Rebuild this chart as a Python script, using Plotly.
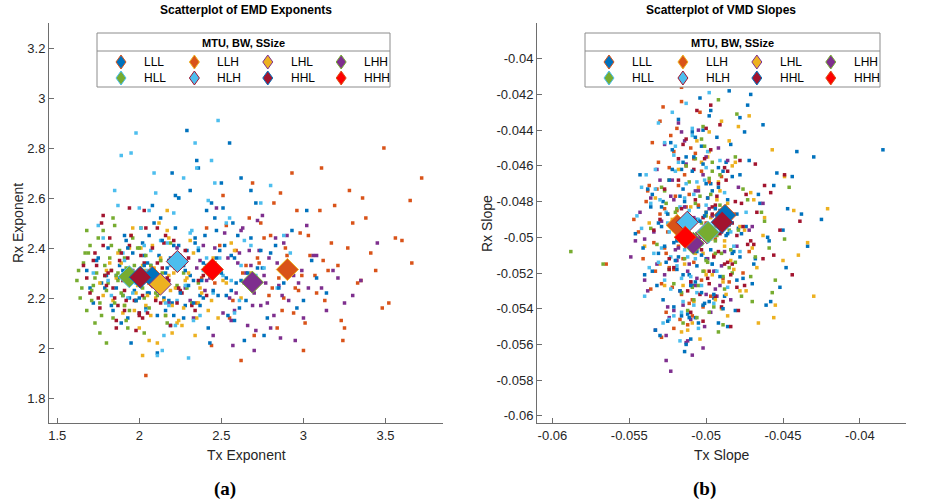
import plotly.graph_objects as go

# ---------------- data ----------------
groups = ["LLL", "LLH", "LHL", "LHH", "HLL", "HLH", "HHL", "HHH"]

# (a) EMD exponents: per-group scatter (Tx, Rx)
emd_tx = {
    "LLL": [1.68,1.72,1.75,1.79,1.81,1.84,1.86,1.88,1.90,1.91,1.93,1.95,1.96,1.98,1.99,2.01,2.02,2.04,2.05,2.06,2.08,2.09,2.11,2.12,2.14,2.15,2.17,2.19,2.21,2.23,2.25,2.28,2.31,2.34,2.37,2.41,2.45,2.50,2.56,2.62,1.77,1.94,2.07,2.18,2.29,
            1.70,1.74,1.83,1.87,1.92,1.97,2.00,2.03,2.10,2.13,2.16,2.20,2.24,2.27,2.33,2.39,2.44,2.53,2.60,2.68,2.75,1.80,1.89,2.05,2.22,2.47,2.36,1.95,2.58,2.11],
    "LLH": [2.04,2.35,2.41,2.46,2.51,2.55,2.59,2.63,2.67,2.70,2.73,2.76,2.79,2.82,2.85,2.87,2.89,2.91,2.93,2.95,2.98,3.01,3.04,3.07,3.10,3.13,3.17,3.21,3.25,3.30,3.35,3.41,3.48,3.56,3.65,3.72,2.62,2.80,2.97,3.15,2.44,3.28,2.72,3.49,2.88,
            2.38,2.49,2.57,2.65,2.74,2.81,2.86,2.90,2.94,2.99,3.03,3.08,3.12,3.19,3.23,3.27,3.33,3.38,3.44,3.52,3.60,2.69,2.84,2.96,3.11,3.24,3.36,2.53,3.00,3.66],
    "LHL": [1.76,1.80,1.84,1.87,1.90,1.93,1.95,1.98,2.00,2.02,2.04,2.06,2.08,2.10,2.11,2.13,2.14,2.16,2.17,2.19,2.21,2.23,2.25,2.27,2.29,2.31,2.34,2.37,2.40,2.44,2.48,2.53,2.58,1.89,1.97,2.05,2.12,2.20,2.28,2.36,2.09,2.15,2.01,2.24,2.18,
            1.78,1.82,1.86,1.91,1.94,1.99,2.03,2.07,2.10,2.13,2.15,2.18,2.22,2.26,2.30,2.33,2.38,2.42,2.46,2.51,2.56,2.62,1.96,2.06,2.17,2.35,2.45,2.02,2.20,2.68],
    "LHH": [2.12,2.18,2.23,2.28,2.33,2.37,2.41,2.45,2.49,2.52,2.55,2.58,2.61,2.64,2.66,2.68,2.70,2.72,2.74,2.76,2.79,2.82,2.85,2.88,2.91,2.95,2.99,3.03,3.08,3.14,3.21,3.30,2.47,2.60,2.71,2.83,2.40,2.93,2.56,2.67,2.78,2.35,2.97,2.63,3.45,
            2.15,2.26,2.31,2.39,2.43,2.51,2.54,2.59,2.62,2.65,2.69,2.73,2.77,2.80,2.84,2.87,2.90,2.94,3.00,3.06,3.11,3.18,3.25,2.57,2.75,2.86,3.02,2.46,2.70,3.35],
    "HLL": [1.62,1.64,1.66,1.68,1.70,1.72,1.74,1.76,1.78,1.80,1.82,1.84,1.86,1.88,1.90,1.92,1.93,1.95,1.96,1.98,2.00,2.02,2.04,2.06,2.08,2.10,2.13,2.16,2.19,2.23,2.27,2.32,1.67,1.73,1.79,1.85,1.91,1.97,2.03,1.87,1.99,2.11,1.71,1.83,2.36,
            1.63,1.65,1.69,1.71,1.73,1.75,1.77,1.79,1.81,1.83,1.85,1.87,1.89,1.91,1.94,1.97,2.00,2.03,2.07,2.12,2.17,2.22,2.29,1.68,1.76,1.84,1.92,2.01,1.80,2.14],
    "HLH": [1.72,1.78,1.83,1.87,1.91,1.95,1.98,2.01,2.04,2.07,2.10,2.12,2.15,2.17,2.19,2.21,2.23,2.25,2.27,2.29,2.31,2.33,2.36,2.39,2.42,2.45,2.49,2.53,2.58,2.64,2.71,2.80,2.92,1.89,2.48,1.93,2.06,2.14,2.26,2.35,2.56,2.03,2.18,2.76,2.30,
            1.75,1.81,1.85,1.90,1.96,2.00,2.05,2.09,2.13,2.16,2.20,2.24,2.28,2.32,2.37,2.41,2.46,2.51,2.55,2.61,2.68,2.74,2.84,1.98,2.22,2.44,2.62,2.11,2.34,2.88],
    "HHL": [1.66,1.70,1.73,1.76,1.79,1.82,1.84,1.86,1.88,1.90,1.92,1.94,1.96,1.98,1.99,2.01,2.02,2.04,2.05,2.07,2.09,2.11,2.13,2.15,2.17,2.19,2.22,2.25,2.28,2.32,2.36,2.41,1.78,1.85,1.93,2.00,2.08,2.16,2.24,1.81,1.97,2.12,2.03,1.91,2.46,
            1.68,1.72,1.75,1.78,1.80,1.83,1.87,1.89,1.91,1.95,1.97,2.00,2.03,2.06,2.08,2.10,2.14,2.18,2.21,2.26,2.30,2.34,2.39,1.77,1.86,1.94,2.02,2.11,1.74,2.23],
    "HHH": [1.86,1.93,1.98,2.03,2.08,2.12,2.16,2.19,2.22,2.25,2.28,2.31,2.33,2.36,2.38,2.40,2.42,2.44,2.46,2.48,2.50,2.52,2.54,2.56,2.59,2.62,2.65,2.68,2.72,2.76,2.80,2.85,2.90,2.96,3.05,3.14,2.35,2.43,2.51,2.27,2.58,2.14,2.70,2.47,2.39,
            1.90,2.00,2.06,2.10,2.18,2.21,2.24,2.30,2.34,2.37,2.41,2.45,2.49,2.53,2.57,2.61,2.66,2.71,2.78,2.83,2.88,2.93,3.00,3.08,2.29,2.55,2.64,2.74,2.20,3.02],
}
emd_rx = {
    "LLL": [2.31,2.18,2.36,2.24,2.40,2.15,2.29,2.33,2.21,2.45,2.12,2.27,2.38,2.19,2.30,2.25,2.42,2.16,2.34,2.22,2.28,2.50,2.13,2.37,2.26,2.20,2.32,2.09,2.41,2.24,2.35,2.17,2.29,2.44,2.21,2.55,2.31,2.66,2.23,2.27,2.26,2.20,2.33,2.19,2.39,
            2.24,2.35,2.17,2.28,2.43,2.23,2.14,2.37,2.26,2.52,2.30,2.18,2.41,2.12,2.27,2.34,2.58,2.21,2.45,2.63,2.32,2.29,2.10,2.22,2.61,2.47,2.72,2.02,2.36,1.98],
    "LLH": [1.89,2.18,2.48,2.26,2.61,2.12,2.39,2.30,2.52,2.05,2.34,2.44,2.21,2.58,2.28,2.15,2.40,2.32,2.70,2.24,2.46,2.10,2.37,2.29,2.55,2.19,2.42,2.33,2.08,2.50,2.27,2.38,2.16,2.44,2.59,2.68,1.95,2.45,2.23,2.31,2.01,2.63,2.36,2.80,2.20,
            2.28,2.41,2.19,2.33,2.50,2.24,2.62,2.37,2.14,2.29,2.45,2.22,2.35,2.57,2.11,2.40,2.26,2.52,2.31,2.18,2.43,2.66,2.08,2.55,2.72,2.03,2.60,2.49,1.99,2.34],
    "LHL": [2.26,2.31,2.19,2.38,2.14,2.27,2.45,2.22,2.08,2.33,2.17,2.29,2.41,2.20,2.02,2.35,2.25,2.13,2.47,2.23,2.30,2.10,2.37,2.16,2.28,2.43,2.05,2.24,2.32,2.19,2.12,2.26,2.39,2.34,2.15,2.21,2.50,2.06,2.27,2.18,2.32,2.24,2.40,2.11,2.29,
            2.21,2.34,2.28,2.17,2.40,2.25,2.31,2.13,2.27,2.36,2.19,2.44,2.24,2.09,2.30,2.38,2.22,2.15,2.33,2.27,2.42,2.20,2.48,2.03,2.55,2.12,2.36,1.97,2.17,2.30],
    "LHH": [2.29,2.18,2.40,2.24,2.12,2.35,2.27,2.05,2.31,2.46,2.20,2.15,2.38,2.26,2.09,2.33,2.22,2.51,2.17,2.29,2.36,2.13,2.25,2.42,2.19,2.03,2.31,2.24,2.37,2.15,2.28,2.21,2.56,2.34,2.07,2.44,2.23,2.30,2.11,2.39,2.18,2.32,2.26,2.48,2.42,
            2.25,2.33,2.19,2.41,2.28,2.14,2.36,2.22,2.47,2.30,2.17,2.39,2.26,2.08,2.34,2.21,2.45,2.29,2.12,2.37,2.24,2.31,2.18,2.01,2.53,2.04,2.49,2.40,1.99,2.27],
    "HLL": [2.27,2.20,2.34,2.15,2.41,2.25,2.30,2.18,2.47,2.23,2.36,2.12,2.29,2.39,2.21,2.32,2.08,2.26,2.44,2.19,2.31,2.24,2.37,2.16,2.28,2.22,2.35,2.13,2.42,2.25,2.30,2.18,2.38,2.10,2.29,2.49,2.17,2.33,2.06,2.27,2.40,2.21,2.23,2.31,2.26,
            2.31,2.24,2.38,2.19,2.28,2.44,2.13,2.33,2.26,2.41,2.18,2.30,2.22,2.36,2.15,2.29,2.40,2.20,2.33,2.26,2.10,2.37,2.24,2.47,2.06,2.52,2.11,2.48,2.02,2.30],
    "HLH": [2.30,2.44,2.21,2.57,2.35,2.78,2.26,2.48,2.15,2.39,2.62,2.28,2.05,2.42,2.33,2.54,2.19,2.37,2.68,2.25,2.46,2.11,2.40,2.31,2.59,2.22,2.36,2.50,2.14,2.43,2.29,2.65,2.38,2.77,2.91,2.20,2.55,1.99,2.34,2.72,2.27,2.41,2.17,2.32,1.96,
            2.49,2.27,2.63,2.38,2.22,2.56,2.31,2.70,2.43,2.18,2.35,2.60,2.25,2.47,2.13,2.36,2.66,2.29,2.52,2.19,2.41,2.58,2.24,2.86,2.09,2.75,2.33,1.97,2.82,2.45],
    "HHL": [2.33,2.22,2.38,2.16,2.29,2.44,2.24,2.11,2.35,2.27,2.19,2.41,2.31,2.07,2.26,2.37,2.21,2.48,2.14,2.30,2.25,2.34,2.18,2.42,2.28,2.09,2.32,2.23,2.39,2.17,2.27,2.21,2.53,2.20,2.36,2.13,2.31,2.45,2.24,2.30,2.19,2.26,2.55,2.15,2.34,
            2.28,2.35,2.20,2.41,2.25,2.31,2.17,2.38,2.23,2.45,2.29,2.14,2.34,2.26,2.40,2.19,2.32,2.27,2.43,2.22,2.36,2.15,2.29,2.50,2.08,2.56,2.12,2.48,2.33,2.18],
    "HHH": [2.24,2.40,2.19,2.33,2.57,2.28,2.15,2.36,2.48,2.22,2.31,2.63,2.18,2.39,2.27,2.45,2.08,2.34,2.52,2.21,2.30,2.41,2.13,2.37,2.26,2.68,2.19,2.44,2.32,2.05,2.38,2.24,2.29,2.16,2.35,2.22,2.75,2.02,2.56,2.33,2.11,2.43,2.27,2.36,2.20,
            2.31,2.20,2.45,2.27,2.35,2.13,2.60,2.25,2.42,2.17,2.33,2.23,2.39,2.28,2.50,2.16,2.30,2.58,2.12,2.41,2.26,2.47,2.19,2.28,2.87,2.82,2.03,2.39,2.70,2.55],
}
# group means (diamonds)
emd_mean_tx = [2.079, 2.902, 2.128, 2.689, 1.939, 2.232, 2.006, 2.445]
emd_mean_rx = [2.283, 2.314, 2.255, 2.263, 2.285, 2.346, 2.283, 2.314]

# (b) VMD slopes
vmd_tx = {
    "LLL": [-0.0531,-0.0524,-0.0518,-0.0513,-0.0509,-0.0505,-0.0502,-0.0499,-0.0496,-0.0494,-0.0492,-0.0490,-0.0488,-0.0486,-0.0484,-0.0482,-0.0480,-0.0478,-0.0476,-0.0474,-0.0472,-0.0469,-0.0466,-0.0463,-0.0460,-0.0456,-0.0452,-0.0447,-0.0441,-0.0434,-0.0425,-0.0385,-0.0507,-0.0497,-0.0489,-0.0481,-0.0471,-0.0458,-0.0515,-0.0493,-0.0477,-0.0501,-0.0485,-0.0468,-0.0444,
            -0.0528,-0.0521,-0.0516,-0.0511,-0.0506,-0.0503,-0.0500,-0.0497,-0.0495,-0.0491,-0.0487,-0.0483,-0.0479,-0.0475,-0.0470,-0.0465,-0.0459,-0.0454,-0.0448,-0.0438,-0.0430,-0.0512,-0.0498,-0.0486,-0.0473,-0.0461,-0.0504,-0.0492,-0.0478,-0.0450],
    "LLH": [-0.0547,-0.0541,-0.0537,-0.0534,-0.0531,-0.0529,-0.0527,-0.0525,-0.0523,-0.0521,-0.0520,-0.0518,-0.0516,-0.0514,-0.0512,-0.0510,-0.0508,-0.0505,-0.0502,-0.0498,-0.0494,-0.0489,-0.0482,-0.0472,-0.0530,-0.0522,-0.0517,-0.0511,-0.0526,-0.0513,-0.0536,-0.0519,-0.0507,-0.0524,-0.0515,-0.0532,-0.0509,-0.0528,-0.0500,-0.0565,-0.0521,-0.0516,-0.0539,-0.0503,-0.0485,
            -0.0544,-0.0538,-0.0533,-0.0530,-0.0527,-0.0524,-0.0522,-0.0520,-0.0518,-0.0515,-0.0513,-0.0511,-0.0508,-0.0506,-0.0503,-0.0499,-0.0495,-0.0490,-0.0484,-0.0476,-0.0535,-0.0526,-0.0519,-0.0512,-0.0504,-0.0529,-0.0516,-0.0509,-0.0521,-0.0497],
    "LHL": [-0.0540,-0.0533,-0.0527,-0.0522,-0.0518,-0.0514,-0.0511,-0.0508,-0.0505,-0.0502,-0.0500,-0.0498,-0.0496,-0.0494,-0.0492,-0.0490,-0.0488,-0.0486,-0.0484,-0.0481,-0.0478,-0.0475,-0.0471,-0.0467,-0.0462,-0.0456,-0.0449,-0.0440,-0.0430,-0.0421,-0.0516,-0.0506,-0.0497,-0.0489,-0.0479,-0.0525,-0.0501,-0.0483,-0.0509,-0.0493,-0.0470,-0.0513,-0.0487,-0.0499,-0.0455,
            -0.0537,-0.0530,-0.0524,-0.0519,-0.0515,-0.0510,-0.0507,-0.0503,-0.0500,-0.0497,-0.0494,-0.0491,-0.0488,-0.0485,-0.0482,-0.0478,-0.0474,-0.0469,-0.0463,-0.0457,-0.0450,-0.0443,-0.0434,-0.0512,-0.0498,-0.0486,-0.0472,-0.0504,-0.0490,-0.0466],
    "LHH": [-0.0549,-0.0543,-0.0538,-0.0534,-0.0530,-0.0527,-0.0524,-0.0521,-0.0518,-0.0515,-0.0513,-0.0511,-0.0509,-0.0507,-0.0505,-0.0503,-0.0501,-0.0498,-0.0495,-0.0492,-0.0488,-0.0484,-0.0479,-0.0472,-0.0463,-0.0526,-0.0516,-0.0510,-0.0504,-0.0497,-0.0532,-0.0519,-0.0508,-0.0500,-0.0490,-0.0523,-0.0512,-0.0502,-0.0540,-0.0494,-0.0523,-0.0526,-0.0514,-0.0486,-0.0506,
            -0.0546,-0.0540,-0.0536,-0.0532,-0.0529,-0.0525,-0.0522,-0.0520,-0.0517,-0.0514,-0.0512,-0.0510,-0.0507,-0.0504,-0.0502,-0.0499,-0.0496,-0.0491,-0.0486,-0.0480,-0.0470,-0.0533,-0.0518,-0.0509,-0.0500,-0.0527,-0.0513,-0.0505,-0.0521,-0.0493],
    "HLL": [-0.0536,-0.0529,-0.0524,-0.0520,-0.0516,-0.0513,-0.0510,-0.0507,-0.0505,-0.0503,-0.0501,-0.0499,-0.0497,-0.0495,-0.0493,-0.0491,-0.0489,-0.0487,-0.0484,-0.0481,-0.0477,-0.0473,-0.0468,-0.0462,-0.0455,-0.0446,-0.0512,-0.0502,-0.0494,-0.0485,-0.0519,-0.0506,-0.0498,-0.0490,-0.0479,-0.0509,-0.0496,-0.0483,-0.0527,-0.0500,-0.0588,-0.0567,-0.0492,-0.0470,-0.0514,
            -0.0532,-0.0526,-0.0521,-0.0517,-0.0514,-0.0511,-0.0508,-0.0506,-0.0504,-0.0502,-0.0500,-0.0498,-0.0496,-0.0494,-0.0491,-0.0488,-0.0485,-0.0481,-0.0476,-0.0471,-0.0464,-0.0457,-0.0449,-0.0515,-0.0503,-0.0492,-0.0480,-0.0507,-0.0489,-0.0459],
    "HLH": [-0.0545,-0.0539,-0.0534,-0.0530,-0.0527,-0.0524,-0.0521,-0.0519,-0.0517,-0.0515,-0.0513,-0.0511,-0.0509,-0.0507,-0.0505,-0.0503,-0.0500,-0.0497,-0.0493,-0.0488,-0.0482,-0.0474,-0.0528,-0.0518,-0.0512,-0.0506,-0.0522,-0.0514,-0.0508,-0.0531,-0.0516,-0.0501,-0.0525,-0.0510,-0.0536,-0.0520,-0.0504,-0.0495,-0.0542,-0.0511,-0.0523,-0.0498,-0.0515,-0.0533,-0.0486,
            -0.0542,-0.0537,-0.0533,-0.0529,-0.0526,-0.0523,-0.0520,-0.0518,-0.0516,-0.0514,-0.0512,-0.0510,-0.0508,-0.0506,-0.0503,-0.0500,-0.0496,-0.0491,-0.0484,-0.0478,-0.0531,-0.0521,-0.0513,-0.0505,-0.0527,-0.0517,-0.0509,-0.0540,-0.0524,-0.0499],
    "HHL": [-0.0534,-0.0527,-0.0521,-0.0516,-0.0512,-0.0508,-0.0505,-0.0502,-0.0499,-0.0497,-0.0495,-0.0493,-0.0491,-0.0489,-0.0487,-0.0485,-0.0483,-0.0481,-0.0478,-0.0475,-0.0471,-0.0467,-0.0462,-0.0456,-0.0449,-0.0439,-0.0510,-0.0500,-0.0492,-0.0484,-0.0474,-0.0518,-0.0504,-0.0494,-0.0486,-0.0480,-0.0513,-0.0498,-0.0488,-0.0469,-0.0524,-0.0506,-0.0490,-0.0476,-0.0496,
            -0.0530,-0.0524,-0.0518,-0.0514,-0.0510,-0.0507,-0.0503,-0.0501,-0.0498,-0.0496,-0.0494,-0.0492,-0.0490,-0.0488,-0.0486,-0.0483,-0.0480,-0.0477,-0.0473,-0.0468,-0.0463,-0.0458,-0.0452,-0.0444,-0.0515,-0.0502,-0.0491,-0.0479,-0.0497,-0.0484],
    "HHH": [-0.0546,-0.0540,-0.0535,-0.0531,-0.0528,-0.0525,-0.0522,-0.0520,-0.0518,-0.0516,-0.0514,-0.0512,-0.0510,-0.0508,-0.0506,-0.0504,-0.0502,-0.0500,-0.0497,-0.0494,-0.0491,-0.0487,-0.0483,-0.0478,-0.0533,-0.0523,-0.0517,-0.0511,-0.0505,-0.0499,-0.0527,-0.0513,-0.0509,-0.0519,-0.0501,-0.0538,-0.0507,-0.0515,-0.0521,-0.0495,-0.0529,-0.0503,-0.0489,-0.0543,-0.0511,
            -0.0541,-0.0536,-0.0532,-0.0529,-0.0526,-0.0524,-0.0521,-0.0519,-0.0517,-0.0515,-0.0513,-0.0511,-0.0509,-0.0506,-0.0503,-0.0500,-0.0496,-0.0492,-0.0486,-0.0480,-0.0530,-0.0522,-0.0514,-0.0507,-0.0498,-0.0518,-0.0525,-0.0510,-0.0502,-0.0535],
}
vmd_rx = {
    "LLL": [-0.0492,-0.0468,-0.0511,-0.0455,-0.0527,-0.0483,-0.0440,-0.0502,-0.0474,-0.0519,-0.0461,-0.0496,-0.0533,-0.0479,-0.0448,-0.0508,-0.0487,-0.0465,-0.0523,-0.0494,-0.0457,-0.0515,-0.0476,-0.0437,-0.0500,-0.0471,-0.0528,-0.0484,-0.0452,-0.0505,-0.0490,-0.0451,-0.0545,-0.0429,-0.0463,-0.0541,-0.0420,-0.0536,-0.0473,-0.0444,-0.0498,-0.0537,-0.0418,-0.0512,-0.0466,
            -0.0480,-0.0503,-0.0462,-0.0521,-0.0490,-0.0449,-0.0512,-0.0470,-0.0534,-0.0485,-0.0458,-0.0509,-0.0495,-0.0441,-0.0526,-0.0481,-0.0502,-0.0464,-0.0517,-0.0487,-0.0455,-0.0543,-0.0432,-0.0550,-0.0426,-0.0538,-0.0422,-0.0548,-0.0433,-0.0496],
    "LLH": [-0.0490,-0.0512,-0.0471,-0.0503,-0.0458,-0.0526,-0.0484,-0.0497,-0.0443,-0.0518,-0.0477,-0.0505,-0.0532,-0.0465,-0.0491,-0.0450,-0.0514,-0.0482,-0.0539,-0.0469,-0.0501,-0.0523,-0.0487,-0.0508,-0.0435,-0.0494,-0.0546,-0.0476,-0.0509,-0.0460,-0.0529,-0.0485,-0.0453,-0.0517,-0.0499,-0.0473,-0.0535,-0.0427,-0.0492,-0.0515,-0.0551,-0.0416,-0.0480,-0.0463,-0.0525,
            -0.0497,-0.0474,-0.0519,-0.0487,-0.0506,-0.0461,-0.0528,-0.0493,-0.0471,-0.0512,-0.0483,-0.0537,-0.0456,-0.0501,-0.0524,-0.0478,-0.0510,-0.0466,-0.0489,-0.0520,-0.0447,-0.0542,-0.0439,-0.0549,-0.0430,-0.0556,-0.0424,-0.0544,-0.0452,-0.0533],
    "LHL": [-0.0505,-0.0478,-0.0527,-0.0490,-0.0462,-0.0515,-0.0498,-0.0536,-0.0472,-0.0509,-0.0486,-0.0452,-0.0521,-0.0494,-0.0469,-0.0540,-0.0502,-0.0481,-0.0513,-0.0458,-0.0530,-0.0496,-0.0475,-0.0517,-0.0489,-0.0545,-0.0466,-0.0510,-0.0533,-0.0484,-0.0553,-0.0446,-0.0501,-0.0525,-0.0438,-0.0487,-0.0519,-0.0460,-0.0548,-0.0479,-0.0506,-0.0493,-0.0532,-0.0455,-0.0538,
            -0.0492,-0.0515,-0.0468,-0.0501,-0.0527,-0.0483,-0.0509,-0.0458,-0.0521,-0.0489,-0.0535,-0.0474,-0.0505,-0.0446,-0.0518,-0.0494,-0.0530,-0.0479,-0.0499,-0.0451,-0.0513,-0.0485,-0.0503,-0.0552,-0.0441,-0.0544,-0.0432,-0.0557,-0.0435,-0.0548],
    "LHH": [-0.0511,-0.0486,-0.0530,-0.0497,-0.0468,-0.0521,-0.0545,-0.0479,-0.0506,-0.0538,-0.0459,-0.0515,-0.0492,-0.0527,-0.0474,-0.0503,-0.0550,-0.0484,-0.0519,-0.0450,-0.0508,-0.0535,-0.0472,-0.0496,-0.0481,-0.0555,-0.0441,-0.0525,-0.0500,-0.0542,-0.0462,-0.0513,-0.0489,-0.0532,-0.0516,-0.0477,-0.0558,-0.0465,-0.0501,-0.0529,-0.0575,-0.0569,-0.0446,-0.0493,-0.0523,
            -0.0502,-0.0524,-0.0478,-0.0515,-0.0491,-0.0539,-0.0468,-0.0507,-0.0530,-0.0483,-0.0519,-0.0546,-0.0474,-0.0498,-0.0562,-0.0512,-0.0488,-0.0527,-0.0457,-0.0505,-0.0494,-0.0552,-0.0436,-0.0566,-0.0455,-0.0448,-0.0559,-0.0440,-0.0541,-0.0533],
    "HLL": [-0.0495,-0.0472,-0.0518,-0.0486,-0.0531,-0.0460,-0.0503,-0.0481,-0.0527,-0.0492,-0.0449,-0.0514,-0.0476,-0.0539,-0.0499,-0.0465,-0.0522,-0.0488,-0.0507,-0.0455,-0.0533,-0.0479,-0.0511,-0.0491,-0.0524,-0.0472,-0.0541,-0.0438,-0.0502,-0.0517,-0.0484,-0.0545,-0.0467,-0.0509,-0.0496,-0.0528,-0.0458,-0.0520,-0.0474,-0.0513,-0.0508,-0.0515,-0.0423,-0.0536,-0.0490,
            -0.0504,-0.0481,-0.0526,-0.0493,-0.0512,-0.0469,-0.0535,-0.0498,-0.0477,-0.0519,-0.0488,-0.0542,-0.0463,-0.0509,-0.0482,-0.0529,-0.0496,-0.0514,-0.0473,-0.0522,-0.0486,-0.0531,-0.0501,-0.0548,-0.0445,-0.0553,-0.0431,-0.0456,-0.0549,-0.0506],
    "HLH": [-0.0488,-0.0465,-0.0509,-0.0479,-0.0524,-0.0497,-0.0454,-0.0516,-0.0483,-0.0536,-0.0470,-0.0501,-0.0443,-0.0512,-0.0490,-0.0527,-0.0461,-0.0494,-0.0519,-0.0475,-0.0505,-0.0486,-0.0548,-0.0458,-0.0496,-0.0531,-0.0430,-0.0507,-0.0476,-0.0514,-0.0542,-0.0468,-0.0492,-0.0522,-0.0481,-0.0449,-0.0503,-0.0537,-0.0472,-0.0485,-0.0511,-0.0419,-0.0499,-0.0462,-0.0528,
            -0.0495,-0.0517,-0.0473,-0.0506,-0.0486,-0.0529,-0.0463,-0.0500,-0.0523,-0.0478,-0.0511,-0.0491,-0.0538,-0.0469,-0.0504,-0.0482,-0.0515,-0.0457,-0.0497,-0.0508,-0.0436,-0.0544,-0.0425,-0.0551,-0.0447,-0.0558,-0.0439,-0.0533,-0.0546,-0.0452],
    "HHL": [-0.0496,-0.0473,-0.0517,-0.0484,-0.0530,-0.0462,-0.0505,-0.0489,-0.0523,-0.0451,-0.0511,-0.0477,-0.0498,-0.0536,-0.0468,-0.0493,-0.0515,-0.0480,-0.0457,-0.0527,-0.0502,-0.0486,-0.0471,-0.0510,-0.0465,-0.0491,-0.0542,-0.0439,-0.0508,-0.0521,-0.0476,-0.0456,-0.0532,-0.0482,-0.0514,-0.0499,-0.0445,-0.0526,-0.0461,-0.0504,-0.0518,-0.0429,-0.0539,-0.0494,-0.0483,
            -0.0490,-0.0512,-0.0468,-0.0501,-0.0525,-0.0479,-0.0507,-0.0456,-0.0519,-0.0487,-0.0533,-0.0470,-0.0497,-0.0515,-0.0463,-0.0492,-0.0528,-0.0481,-0.0504,-0.0459,-0.0512,-0.0475,-0.0496,-0.0521,-0.0448,-0.0547,-0.0437,-0.0541,-0.0426,-0.0550],
    "HHH": [-0.0498,-0.0521,-0.0476,-0.0509,-0.0535,-0.0487,-0.0462,-0.0513,-0.0495,-0.0544,-0.0480,-0.0503,-0.0527,-0.0455,-0.0516,-0.0491,-0.0538,-0.0470,-0.0507,-0.0484,-0.0522,-0.0499,-0.0466,-0.0511,-0.0552,-0.0447,-0.0530,-0.0493,-0.0548,-0.0478,-0.0505,-0.0560,-0.0441,-0.0518,-0.0488,-0.0473,-0.0525,-0.0458,-0.0496,-0.0532,-0.0483,-0.0510,-0.0540,-0.0465,-0.0501,
            -0.0506,-0.0483,-0.0527,-0.0494,-0.0514,-0.0468,-0.0539,-0.0502,-0.0477,-0.0521,-0.0490,-0.0545,-0.0463,-0.0508,-0.0531,-0.0486,-0.0515,-0.0472,-0.0498,-0.0524,-0.0555,-0.0451,-0.0564,-0.0444,-0.0536,-0.0434,-0.0547,-0.0557,-0.0459,-0.0519],
}
vmd_mean_tx = [-0.04877, -0.05188, -0.04995, -0.05084, -0.04987, -0.05123, -0.04896, -0.05136]
vmd_mean_rx = [-0.04877, -0.04933, -0.04975, -0.05034, -0.04972, -0.04916, -0.04916, -0.05000]

# axis ticks
emd_xticks = [1.5, 2, 2.5, 3, 3.5]
emd_yticks = [1.8, 2, 2.2, 2.4, 2.6, 2.8, 3, 3.2]
vmd_xticks = [-0.06, -0.055, -0.05, -0.045, -0.04]
vmd_xlabels = ["-0.06", "-0.055", "-0.05", "-0.045", "-0.04"]
vmd_yticks = [-0.06, -0.058, -0.056, -0.054, -0.052, -0.05, -0.048, -0.046, -0.044, -0.042, -0.04]
vmd_ylabels = ["-0.06", "-0.058", "-0.056", "-0.054", "-0.052", "-0.05", "-0.048", "-0.046", "-0.044", "-0.042", "-0.04"]

# ---------------- styles ----------------
fill_colors = ["#0072BD", "#D95319", "#EDB120", "#7E2F8E", "#77AC30", "#4DBEEE", "#A2142F", "#FF0000"]
dot_colors = ["#0072BD", "#D95319", "#EDB120", "#7E2F8E", "#77AC30", "#4DBEEE", "#A2142F", "#0072BD"]
edge_colors = ["#D95319", "#EDB120", "#7E2F8E", "#77AC30", "#4DBEEE", "#A2142F", "#0072BD", "#D95319"]

W, H = 925, 501
FONT = "Liberation Sans, Arial, sans-serif"
AX_COLOR = "#6e6e6e"
TXT = "#262626"


def PX(x):
    return x / W


def PY(y):
    return 1 - y / H


fig = go.Figure()

panels = [("x", "y", emd_tx, emd_rx, emd_mean_tx, emd_mean_rx),
          ("x2", "y2", vmd_tx, vmd_rx, vmd_mean_tx, vmd_mean_rx)]

for xa, ya, dx, dy, mx, my in panels:
    for i, g in enumerate(groups):
        n = min(len(dx[g]), len(dy[g]))
        fig.add_trace(go.Scatter(
            x=dx[g][:n], y=dy[g][:n], mode="markers", xaxis=xa, yaxis=ya,
            marker=dict(symbol="square", size=3.5, color=dot_colors[i], line=dict(width=0)),
            showlegend=False, hoverinfo="x+y", name=g))
    for i, g in enumerate(groups):
        fig.add_trace(go.Scatter(
            x=[mx[i]], y=[my[i]], mode="markers", xaxis=xa, yaxis=ya,
            marker=dict(symbol="diamond", size=17, color=fill_colors[i],
                        line=dict(width=1, color=edge_colors[i])),
            showlegend=False, name=g))

ax_common = dict(showline=True, linecolor=AX_COLOR, linewidth=1, mirror=False,
                 ticks="inside", ticklen=5, tickcolor=AX_COLOR, tickwidth=1,
                 showgrid=False, zeroline=False,
                 tickfont=dict(family=FONT, size=13, color=TXT))

fig.update_layout(
    width=W, height=H, margin=dict(l=0, r=0, t=0, b=0),
    paper_bgcolor="white", plot_bgcolor="white", showlegend=False,
    xaxis=dict(domain=[PX(49), PX(443)], range=[1.45, 3.85], tickvals=emd_xticks,
               anchor="y", **ax_common),
    yaxis=dict(domain=[PY(423), PY(23)], range=[1.7, 3.3], tickvals=emd_yticks,
               anchor="x", **ax_common),
    xaxis2=dict(domain=[PX(537), PX(906)], range=[-0.061, -0.037], tickvals=vmd_xticks,
                ticktext=vmd_xlabels, anchor="y2", **ax_common),
    yaxis2=dict(domain=[PY(423), PY(23)], range=[-0.0604, -0.038], tickvals=vmd_yticks,
                ticktext=vmd_ylabels, anchor="x2", **ax_common),
)

annotations = []
shapes = []


def text(x, y, s, size, bold=False, family=FONT, xanchor="center", angle=0, color=TXT):
    annotations.append(dict(
        x=PX(x), y=PY(y), xref="paper", yref="paper", text=("<b>%s</b>" % s) if bold else s,
        showarrow=False, xanchor=xanchor, yanchor="middle", textangle=angle,
        font=dict(family=family, size=size, color=color)))


# titles
text(246, 10, "Scatterplot of EMD Exponents", 12, bold=True, color="#000000")
text(721, 10, "Scatterplot of VMD Slopes", 12, bold=True, color="#000000")
# axis titles
text(246, 455, "Tx Exponent", 14)
text(721, 455, "Tx Slope", 14)
text(18, 223, "Rx Exponent", 14, angle=-90)
text(487, 223, "Rx Slope", 14, angle=-90)
# sub-captions
text(225, 489, "(a)", 19, bold=True, family="Liberation Serif, DejaVu Serif, serif", color="#000000")
text(704, 489, "(b)", 19, bold=True, family="Liberation Serif, DejaVu Serif, serif", color="#000000")


def legend_box(left, top, width):
    height = 54
    shapes.append(dict(type="rect", xref="paper", yref="paper", x0=PX(left), x1=PX(left + width),
                       y0=PY(top + height), y1=PY(top), line=dict(color="#8c8c8c", width=1),
                       fillcolor="white", layer="above"))
    shapes.append(dict(type="line", xref="paper", yref="paper", x0=PX(left), x1=PX(left + width),
                       y0=PY(top + 18), y1=PY(top + 18), line=dict(color="#8c8c8c", width=1),
                       layer="above"))
    text(left + width / 2, top + 10, "MTU, BW, SSize", 11, bold=True, color="#000000")
    step = (width - 20) / 3.72
    for i, g in enumerate(groups):
        r, c = divmod(i, 4)
        cx = left + 24 + c * step
        cy = top + 29 + r * 16
        path = "M %f %f L %f %f L %f %f L %f %f Z" % (
            PX(cx), PY(cy - 7), PX(cx + 5), PY(cy), PX(cx), PY(cy + 7), PX(cx - 5), PY(cy))
        shapes.append(dict(type="path", xref="paper", yref="paper", path=path,
                           fillcolor=fill_colors[i], line=dict(color=edge_colors[i], width=1),
                           layer="above"))
        text(cx + 21, cy, g, 12, xanchor="left", color="#000000")


legend_box(97, 33, 293)
legend_box(585, 33, 295)

fig.update_layout(annotations=annotations, shapes=shapes)
fig.write_html("out.html")
